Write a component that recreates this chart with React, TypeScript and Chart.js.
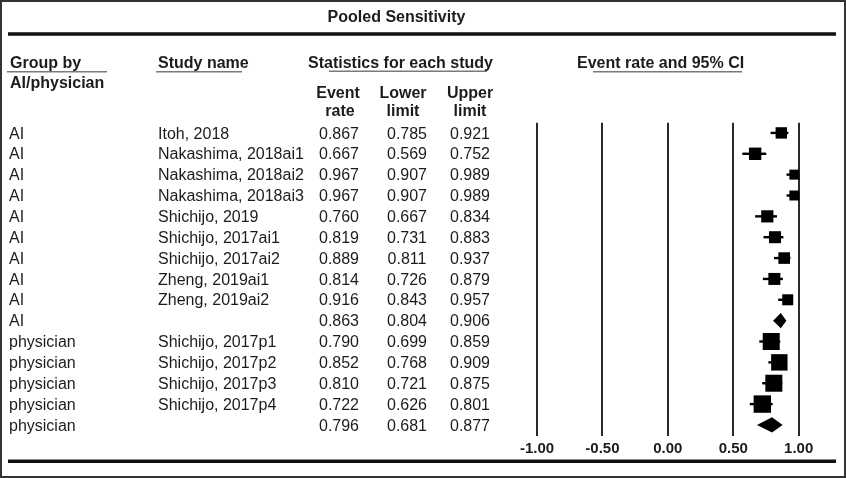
import React, { useEffect, useRef } from "react";
import { Chart, registerables } from "chart.js";

Chart.register(...registerables);

const groups = ["AI", "AI", "AI", "AI", "AI", "AI", "AI", "AI", "AI", "AI", "physician", "physician", "physician", "physician", "physician"];
const studyNames = [
  "Itoh, 2018",
  "Nakashima, 2018ai1",
  "Nakashima, 2018ai2",
  "Nakashima, 2018ai3",
  "Shichijo, 2019",
  "Shichijo, 2017ai1",
  "Shichijo, 2017ai2",
  "Zheng, 2019ai1",
  "Zheng, 2019ai2",
  "",
  "Shichijo, 2017p1",
  "Shichijo, 2017p2",
  "Shichijo, 2017p3",
  "Shichijo, 2017p4",
  "",
];
const eventRate = [0.867, 0.667, 0.967, 0.967, 0.76, 0.819, 0.889, 0.814, 0.916, 0.863, 0.79, 0.852, 0.81, 0.722, 0.796];
const lowerLimit = [0.785, 0.569, 0.907, 0.907, 0.667, 0.731, 0.811, 0.726, 0.843, 0.804, 0.699, 0.768, 0.721, 0.626, 0.681];
const upperLimit = [0.921, 0.752, 0.989, 0.989, 0.834, 0.883, 0.937, 0.879, 0.957, 0.906, 0.859, 0.909, 0.875, 0.801, 0.877];
const isSummary = [false, false, false, false, false, false, false, false, false, true, false, false, false, false, true];
const studyWeight = [5.7, 6.2, 5.0, 5.0, 6.1, 6.0, 5.8, 6.0, 5.5, 0, 8.5, 8.2, 8.5, 8.7, 0];
const xTicks = [-1, -0.5, 0, 0.5, 1];
const xTickLabels = ["-1.00", "-0.50", "0.00", "0.50", "1.00"];

const FONT = "'Liberation Sans', Arial, Helvetica, sans-serif";
const TEXT = "#1c1c1c";

const forestPlugin = {
  id: "forest",
  beforeDatasetsDraw(chart: any) {
    const ctx = chart.ctx as CanvasRenderingContext2D;
    const xs = chart.scales.x;
    const ys = chart.scales.y;
    const area = chart.chartArea;
    ctx.save();
    // vertical reference lines
    ctx.strokeStyle = "#2a2a2a";
    ctx.lineWidth = 2;
    xTicks.forEach((t) => {
      const px = Math.round(xs.getPixelForValue(t));
      ctx.beginPath();
      ctx.moveTo(px, area.top);
      ctx.lineTo(px, area.bottom);
      ctx.stroke();
    });
    // confidence intervals
    ctx.strokeStyle = "#000";
    ctx.lineWidth = 2.4;
    eventRate.forEach((_, i) => {
      if (isSummary[i]) return;
      const py = ys.getPixelForValue(i);
      ctx.beginPath();
      ctx.moveTo(xs.getPixelForValue(lowerLimit[i]), py);
      ctx.lineTo(xs.getPixelForValue(upperLimit[i]), py);
      ctx.stroke();
    });
    ctx.restore();
  },
  afterDatasetsDraw(chart: any) {
    const ctx = chart.ctx as CanvasRenderingContext2D;
    const xs = chart.scales.x;
    const ys = chart.scales.y;
    ctx.save();
    // summary diamonds
    ctx.fillStyle = "#000";
    eventRate.forEach((v, i) => {
      if (!isSummary[i]) return;
      const py = ys.getPixelForValue(i);
      const l = xs.getPixelForValue(lowerLimit[i]);
      const r = xs.getPixelForValue(upperLimit[i]);
      const c = xs.getPixelForValue(v);
      const h = 7.6;
      ctx.beginPath();
      ctx.moveTo(l, py);
      ctx.lineTo(c, py - h);
      ctx.lineTo(r, py);
      ctx.lineTo(c, py + h);
      ctx.closePath();
      ctx.fill();
    });
    ctx.restore();
  },
  afterDraw(chart: any) {
    const ctx = chart.ctx as CanvasRenderingContext2D;
    const xs = chart.scales.x;
    const ys = chart.scales.y;
    ctx.save();
    // frame
    ctx.strokeStyle = "#333";
    ctx.lineWidth = 2;
    ctx.strokeRect(1, 1, 844, 476);
    // thick rules
    ctx.strokeStyle = "#111";
    ctx.lineWidth = 3.6;
    ctx.beginPath();
    ctx.moveTo(8, 34);
    ctx.lineTo(836, 34);
    ctx.moveTo(8, 461.3);
    ctx.lineTo(836, 461.3);
    ctx.stroke();
    // header underlines
    ctx.strokeStyle = "#7a7a7a";
    ctx.lineWidth = 1.6;
    ctx.beginPath();
    ctx.moveTo(7, 71.7);
    ctx.lineTo(107, 71.7);
    ctx.moveTo(156, 71.7);
    ctx.lineTo(242, 71.7);
    ctx.moveTo(329, 71.2);
    ctx.lineTo(487, 71.2);
    ctx.moveTo(593, 71.7);
    ctx.lineTo(742, 71.7);
    ctx.stroke();

    ctx.fillStyle = TEXT;
    ctx.textBaseline = "middle";
    // title and headers
    ctx.font = `bold 16px ${FONT}`;
    ctx.textAlign = "center";
    ctx.fillText("Pooled Sensitivity", 396.5, 18);
    ctx.textAlign = "left";
    ctx.fillText("Group by", 10, 63.5);
    ctx.fillText("AI/physician", 10, 84);
    ctx.fillText("Study name", 158, 63.5);
    ctx.fillText("Statistics for each study", 308, 63.5);
    ctx.fillText("Event rate and 95% CI", 577, 63.5);
    ctx.textAlign = "center";
    ctx.fillText("Event", 338, 93.5);
    ctx.fillText("rate", 340, 111.5);
    ctx.fillText("Lower", 403, 93.5);
    ctx.fillText("limit", 403, 111.5);
    ctx.fillText("Upper", 470, 93.5);
    ctx.fillText("limit", 470, 111.5);

    // rows
    ctx.font = `16px ${FONT}`;
    eventRate.forEach((v, i) => {
      const py = ys.getPixelForValue(i) + 1.3;
      ctx.textAlign = "left";
      ctx.fillText(groups[i], 9, py);
      ctx.fillText(studyNames[i], 158, py);
      ctx.textAlign = "center";
      ctx.fillText(v.toFixed(3), 339, py);
      ctx.fillText(lowerLimit[i].toFixed(3), 407, py);
      ctx.fillText(upperLimit[i].toFixed(3), 470, py);
    });

    // x tick labels
    ctx.font = `bold 15px ${FONT}`;
    ctx.textAlign = "center";
    xTicks.forEach((t, k) => {
      ctx.fillText(xTickLabels[k], xs.getPixelForValue(t), 449);
    });
    ctx.restore();
  },
};

export default function App() {
  const ref = useRef<HTMLCanvasElement | null>(null);
  useEffect(() => {
    document.body.style.margin = "0";
    const canvas = ref.current;
    if (!canvas) return;
    const points = eventRate
      .map((v, i) => ({ x: v, y: i, w: studyWeight[i], s: isSummary[i] }))
      .filter((p) => !p.s);
    const chart = new Chart(canvas, {
      type: "scatter",
      data: {
        datasets: [
          {
            label: "Event rate",
            data: points as any,
            pointStyle: "rect",
            pointRadius: (c: any) => (c.raw ? c.raw.w / Math.SQRT1_2 : 0),
            pointHoverRadius: (c: any) => (c.raw ? c.raw.w / Math.SQRT1_2 : 0),
            backgroundColor: "#000",
            borderColor: "#000",
            borderWidth: 0,
            clip: false as any,
          },
        ],
      },
      options: {
        responsive: false,
        animation: false,
        events: [],
        layout: { padding: { left: 537, right: 47.3, top: 122.7, bottom: 42 } },
        plugins: { legend: { display: false }, tooltip: { enabled: false } },
        scales: {
          x: { type: "linear", min: -1, max: 1, display: false },
          y: { type: "linear", min: -0.49, max: 14.53, reverse: true, display: false },
        },
      },
      plugins: [forestPlugin],
    });
    return () => chart.destroy();
  }, []);
  return (
    <div style={{ width: 846, height: 478, background: "#fff" }}>
      <canvas ref={ref} width={846} height={478} style={{ display: "block", width: 846, height: 478 }} />
    </div>
  );
}
